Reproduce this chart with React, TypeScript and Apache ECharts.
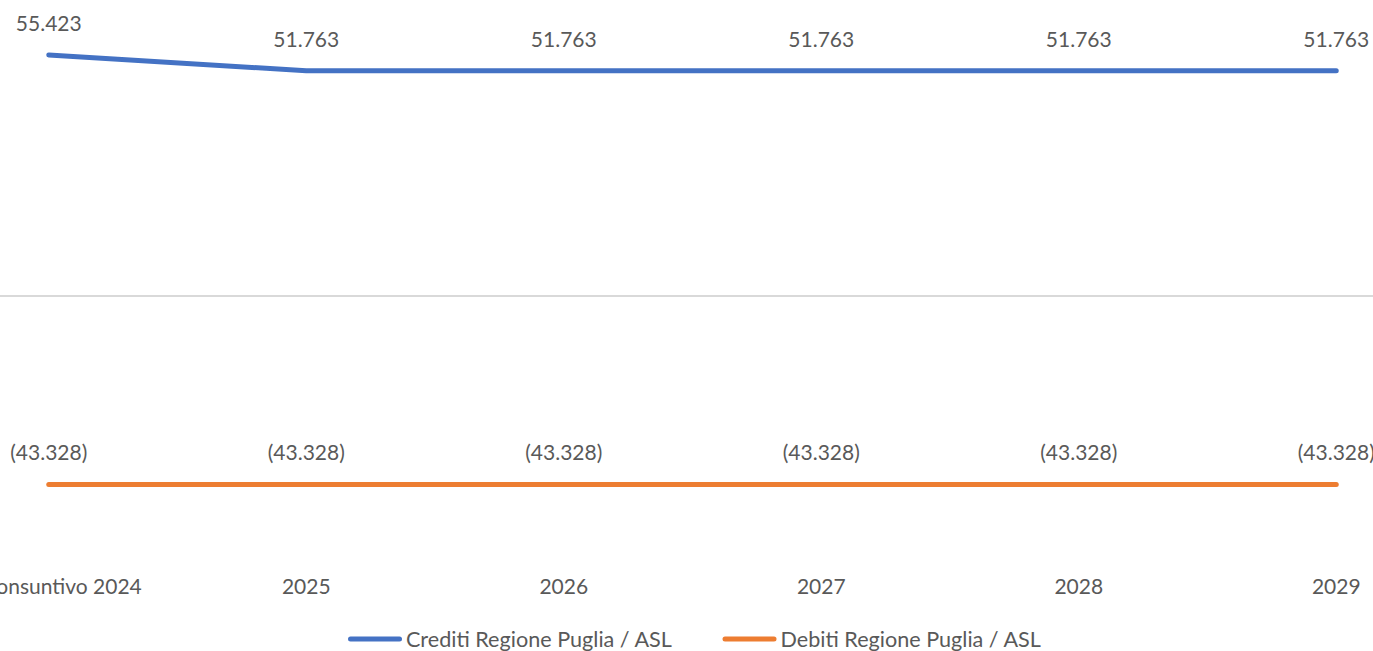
import React, { useEffect, useRef } from "react";
import * as echarts from "echarts";

const categories = ["Preconsuntivo 2024", "2025", "2026", "2027", "2028", "2029"];
const crediti = [55423, 51763, 51763, 51763, 51763, 51763];
const debiti = [-43328, -43328, -43328, -43328, -43328, -43328];
const seriesNames = ["Crediti Regione Puglia / ASL", "Debiti Regione Puglia / ASL"];

const FONT = "Lato, Carlito, Calibri, sans-serif";
const TEXT = "#595959";

function fmt(v: number): string {
  const s = Math.abs(Math.round(v)).toString().replace(/\B(?=(\d{3})+(?!\d))/g, ".");
  return v < 0 ? "(" + s + ")" : s;
}

const LEGEND_ICON =
  "path://M2.5,0 L51.5,0 A2.5,2.5 0 0 1 51.5,5 L2.5,5 A2.5,2.5 0 0 1 2.5,0 Z";

// The plot area is wider than the visible page (the reference is cropped at both sides).
const OFFSET_LEFT = 80;
const CHART_WIDTH = 1545;

export default function App() {
  const ref = useRef<HTMLDivElement>(null);
  useEffect(() => {
    if (!ref.current) return;
    const chart = echarts.init(ref.current, undefined, { renderer: "svg" });
    const mkSeries = (name: string, data: number[], color: string) => ({
      name,
      type: "line",
      data,
      symbol: "circle",
      symbolSize: 0,
      itemStyle: { color },
      lineStyle: { color, width: 5, cap: "round", join: "round" },
      label: {
        show: true,
        position: "top",
        distance: 22,
        color: TEXT,
        fontFamily: FONT,
        fontSize: 21,
        formatter: (p: any) => fmt(p.value),
      },
      emphasis: { disabled: true },
    });
    chart.setOption({
      animation: false,
      textStyle: { fontFamily: FONT },
      grid: { left: 0, right: 0, top: 35, bottom: 94, containLabel: false },
      xAxis: {
        type: "category",
        data: categories,
        boundaryGap: true,
        axisLine: { show: false },
        axisTick: { show: false },
        axisLabel: { color: TEXT, fontSize: 21, fontFamily: FONT, margin: 18, interval: 0 },
        splitLine: { show: false },
      },
      yAxis: {
        type: "value",
        min: -60000,
        max: 60000,
        interval: 60000,
        axisLine: { show: false },
        axisTick: { show: false },
        axisLabel: { show: false },
        splitLine: {
          show: true,
          showMinLine: false,
          showMaxLine: false,
          lineStyle: { color: "#d9d9d9", width: 2 },
        },
      },
      legend: {
        left: 348 + OFFSET_LEFT,
        top: 628,
        padding: 0,
        itemWidth: 54,
        itemHeight: 5,
        itemGap: 50,
        icon: LEGEND_ICON,
        textStyle: { color: TEXT, fontSize: 21.6, fontFamily: FONT, padding: [0, 0, 0, -1] },
        data: seriesNames,
        selectedMode: false,
      },
      series: [
        mkSeries(seriesNames[0], crediti, "#4472C4"),
        mkSeries(seriesNames[1], debiti, "#ED7D31"),
      ],
    });
    return () => chart.dispose();
  }, []);
  return (
    <div
      style={{
        position: "absolute",
        left: 0,
        top: 0,
        width: 1373,
        height: 651,
        overflow: "hidden",
        background: "#fff",
      }}
    >
      <div
        ref={ref}
        style={{ position: "absolute", left: -OFFSET_LEFT, top: 0, width: CHART_WIDTH, height: 651 }}
      />
    </div>
  );
}
